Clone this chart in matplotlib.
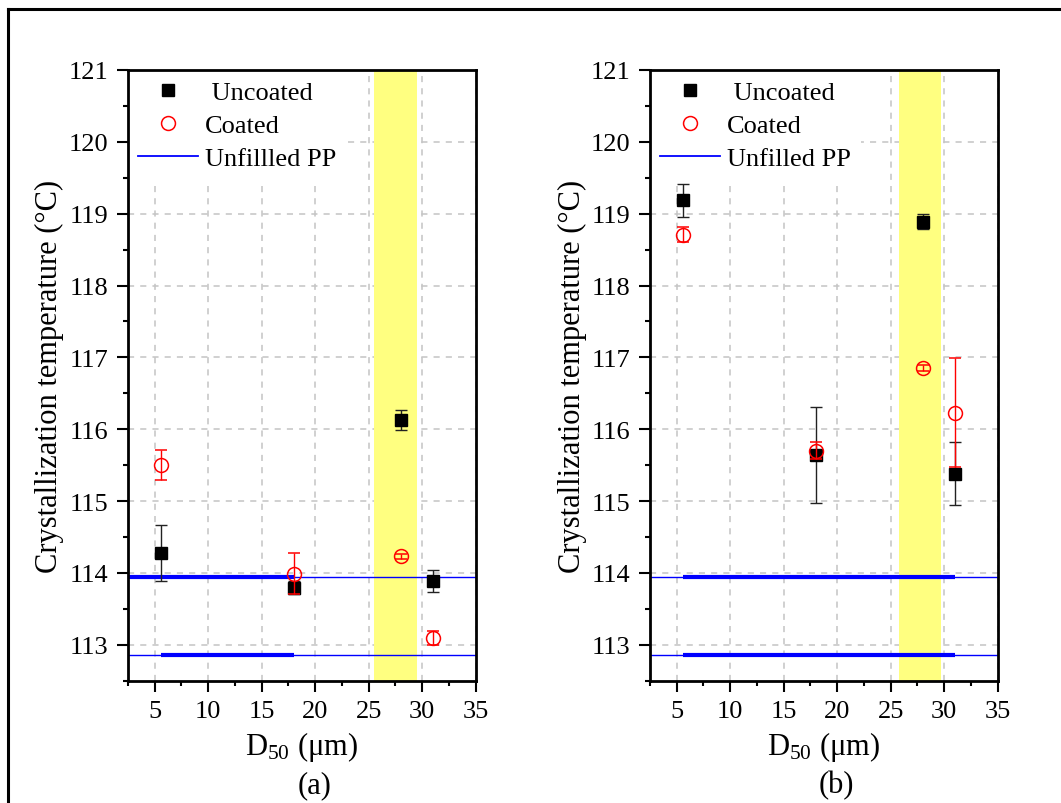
import numpy as np
import matplotlib
matplotlib.use("Agg")
from matplotlib import pyplot as plt
from matplotlib.lines import Line2D

plt.rcParams['font.family'] = ['Liberation Serif', 'DejaVu Serif']
plt.rcParams['mathtext.fontset'] = 'custom'
plt.rcParams['mathtext.rm'] = 'Liberation Serif'
plt.rcParams['mathtext.it'] = 'Liberation Serif:italic'

# particle size D50 (um)
d50 = [5.6, 18, 28, 31]

# panel (a)
a_uncoated = [114.27, 113.79, 116.13, 113.89]
a_uncoated_err = [0.39, 0.09, 0.14, 0.15]
a_coated = [115.50, 113.99, 114.23, 113.09]
a_coated_err = [0.21, 0.28, 0.03, 0.10]

# panel (b)
b_uncoated = [119.19, 115.64, 118.89, 115.38]
b_uncoated_err = [0.23, 0.67, 0.10, 0.44]
b_coated = [118.71, 115.70, 116.85, 116.23]
b_coated_err = [0.11, 0.12, 0.04, 0.76]

# unfilled PP range (upper / lower) and the thick segments drawn over it
pp_levels = [113.94, 112.85]
a_pp_segments = [[2.5, 18], [5.6, 18]]
b_pp_segments = [[5.6, 31], [5.6, 31]]

# highlighted D50 band
a_band = [25.5, 29.5]
b_band = [25.8, 29.7]

panels = [
    dict(unc=a_uncoated, unc_err=a_uncoated_err, coa=a_coated, coa_err=a_coated_err,
         seg=a_pp_segments, band=a_band, pp_label="Unfillled PP", tag="(a)"),
    dict(unc=b_uncoated, unc_err=b_uncoated_err, coa=b_coated, coa_err=b_coated_err,
         seg=b_pp_segments, band=b_band, pp_label="Unfilled PP", tag="(b)"),
]

fig = plt.figure(figsize=(10.61, 8.04), dpi=100)
lefts = [0.1205, 0.6125]

for left, p in zip(lefts, panels):
    ax = fig.add_axes([left, 0.1522, 0.3278, 0.7595])
    ax.set_axisbelow(True)
    ax.grid(True, which='major', color='#c4c4c4', ls=(0, (4, 4)), lw=1.1)
    ax.axvspan(p['band'][0], p['band'][1], color='#ffff80', lw=0, zorder=1)

    for lev, seg in zip(pp_levels, p['seg']):
        ax.axhline(lev, color='#0000ff', lw=1.0, zorder=2)
        ax.plot(seg, [lev, lev], color='#0000ff', lw=3.0, zorder=2,
                solid_capstyle='butt')

    ax.errorbar(d50, p['unc'], yerr=p['unc_err'], fmt='s', color='black',
                ms=8.5, ecolor='#222222', elinewidth=1.0, capsize=4.5,
                capthick=1.0, zorder=3)
    ax.errorbar(d50, p['coa'], yerr=p['coa_err'], fmt='o', mfc='none',
                mec='#ff0000', mew=1.1, ms=10, ecolor='#ff0000',
                elinewidth=1.0, capsize=4.5, capthick=1.0, zorder=4)

    ax.set_xlim(2.5, 35)
    ax.set_ylim(112.5, 121)
    ax.set_xticks(np.arange(5, 36, 5))
    ax.set_xticks(np.arange(2.5, 35.1, 2.5), minor=True)
    ax.set_yticks(np.arange(113, 121.1, 1))
    ax.set_yticks(np.arange(112.5, 121.1, 0.5), minor=True)
    ax.tick_params(which='both', direction='out', width=1.5, labelsize=19,
                   pad=6)
    ax.tick_params(which='major', length=8)
    ax.tick_params(which='minor', length=3.5)
    for s in ax.spines.values():
        s.set_linewidth(2.0)

    ax.set_ylabel("Crystallization temperature (°C)", fontsize=22, labelpad=3)
    ax.set_xlabel("D$_{\\mathrm{50}}$ (μm)", fontsize=22, labelpad=5)
    ax.text(0.537, -0.17, p['tag'], transform=ax.transAxes, ha='center',
            va='center', fontsize=22)

    handles = [
        Line2D([], [], ls='none', marker='s', color='black', ms=8),
        Line2D([], [], ls='none', marker='o', mfc='none', mec='#ff0000',
               mew=1.1, ms=10),
        Line2D([], [], color='#0000ff', lw=1.3),
    ]
    leg = ax.legend(handles, [" Uncoated", "Coated", p['pp_label']],
                    loc='upper left', fontsize=19, frameon=True,
                    borderaxespad=0, borderpad=0.4, handlelength=2.27,
                    handletextpad=0.25, labelspacing=0.37, fancybox=False)
    leg.get_frame().set_facecolor('white')
    leg.get_frame().set_edgecolor('none')
    leg.get_frame().set_alpha(1)
    leg.set_zorder(2.4)

# outer frame (left and top edges visible)
fig.add_artist(Line2D([8 / 1061, 8 / 1061], [0, 1 - 10 / 804], color='black',
                      lw=2.2, transform=fig.transFigure))
fig.add_artist(Line2D([8 / 1061, 1], [1 - 10 / 804, 1 - 10 / 804],
                      color='black', lw=2.2, transform=fig.transFigure))

fig.savefig("out.png", dpi=100)
